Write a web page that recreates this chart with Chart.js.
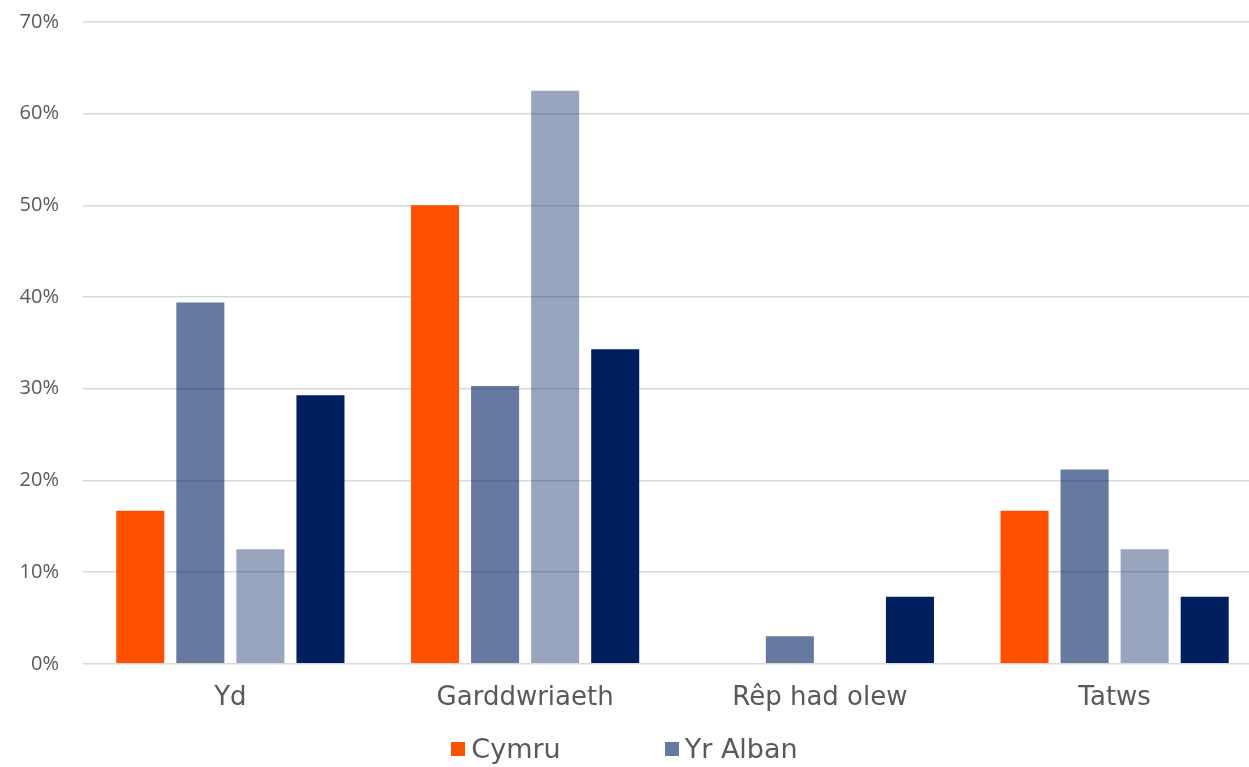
<!DOCTYPE html>
<html>
<head>
<meta charset="utf-8">
<script src="https://cdn.jsdelivr.net/npm/chart.js@4"></script>
<style>
  html, body { margin: 0; padding: 0; background: #fff; overflow: hidden; }
  #wrap { position: relative; width: 1262px; height: 767px; overflow: hidden; }
  #chart { position: absolute; left: 0; top: -14px; }
  #legend {
    position: absolute; left: 0; top: 733px; width: 1249px;
    display: flex; justify-content: center;
    font-family: "DejaVu Sans", Verdana, sans-serif; font-size: 27px; color: #595959;
  }
  #legend .item { display: flex; align-items: center; margin: 0 52px; }
  #legend .box { width: 14px; height: 14px; margin-right: 6px; }
</style>
</head>
<body>
<div id="wrap">
  <canvas id="chart" width="1262" height="781"></canvas>
  <div id="legend"></div>
</div>
<script>
// categories and series (percent)
const categories = ['Yd', 'Garddwriaeth', 'Rêp had olew', 'Tatws'];
const seriesNames = ['Cymru', 'Yr Alban', 'Lloegr', 'Gogledd Iwerddon'];
const cymru = [16.7, 50.0, 0, 16.7];
const yrAlban = [39.4, 30.3, 3.0, 21.2];
const lloegr = [12.5, 62.5, 0, 12.5];
const gogleddIwerddon = [29.3, 34.3, 7.3, 7.3];
const yTicks = [0, 10, 20, 30, 40, 50, 60, 70];

const colours = ['#ff5000', 'rgba(0,31,96,0.6)', 'rgba(0,31,96,0.4)', '#001f5f'];
const legendShown = 2; // only the first two appear in the legend

let chart;

function initializeChart() {
  const ctx = document.getElementById('chart').getContext('2d');
  const values = [cymru, yrAlban, lloegr, gogleddIwerddon];
  chart = new Chart(ctx, {
    type: 'bar',
    data: {
      labels: categories,
      datasets: seriesNames.map((name, i) => ({
        label: name,
        data: values[i],
        backgroundColor: colours[i],
        borderWidth: 0,
        barPercentage: 0.8,
        categoryPercentage: 0.815,
      })),
    },
    options: {
      responsive: false,
      animation: false,
      layout: { padding: { top: 0, bottom: 42, right: 0, left: 0 } },
      plugins: {
        legend: { display: false },
        tooltip: { enabled: false },
      },
      scales: {
        x: {
          grid: { display: false },
          border: { display: false },
          ticks: {
            color: '#595959',
            padding: 11,
            font: { family: 'DejaVu Sans', size: 26 },
          },
        },
        y: {
          min: 0,
          max: 70,
          afterFit: (axis) => { axis.width = 83; },
          afterBuildTicks: (axis) => { axis.ticks = yTicks.map(v => ({ value: v })); },
          grid: { color: '#d9d9d9', lineWidth: 1.5, drawTicks: false },
          border: { display: false },
          ticks: {
            color: '#595959',
            padding: 24,
            font: { family: 'Open Sans', size: 20 },
            callback: (v) => v + '%',
          },
        },
      },
    },
  });

  // legend under the chart, from the chart's own datasets
  const legend = document.getElementById('legend');
  chart.data.datasets.slice(0, legendShown).forEach((ds) => {
    const item = document.createElement('div');
    item.className = 'item';
    const box = document.createElement('span');
    box.className = 'box';
    box.style.background = ds.backgroundColor;
    const txt = document.createElement('span');
    txt.textContent = ds.label;
    item.appendChild(box);
    item.appendChild(txt);
    legend.appendChild(item);
  });
}

document.addEventListener('DOMContentLoaded', initializeChart);
</script>
</body>
</html>
